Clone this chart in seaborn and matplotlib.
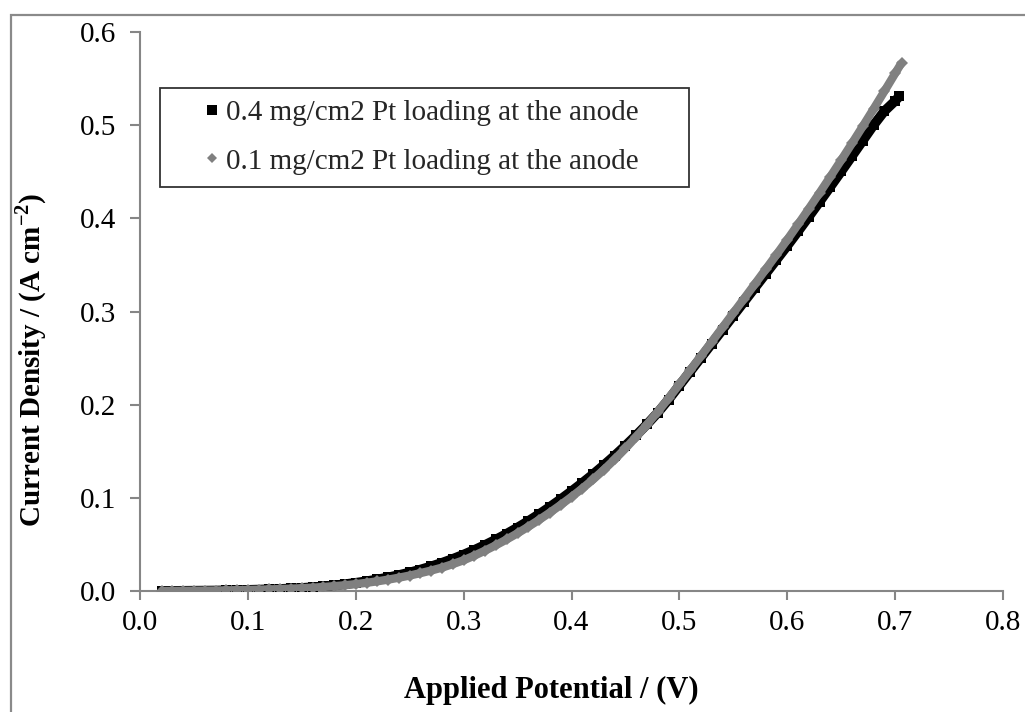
import matplotlib
matplotlib.use("Agg")
import matplotlib.pyplot as plt
import seaborn as sns
import pandas as pd
from matplotlib.lines import Line2D
from matplotlib.patches import Rectangle
from matplotlib.ticker import FormatStrFormatter

# ---------------- data ----------------
V_04 = [0.02, 0.03, 0.04, 0.05, 0.06, 0.07, 0.08, 0.09, 0.10, 0.11,
        0.12, 0.13, 0.14, 0.15, 0.16, 0.17, 0.18, 0.19, 0.20, 0.21,
        0.22, 0.23, 0.24, 0.25, 0.26, 0.27, 0.28, 0.29, 0.30, 0.31,
        0.32, 0.33, 0.34, 0.35, 0.36, 0.37, 0.38, 0.39, 0.40, 0.41,
        0.42, 0.43, 0.44, 0.45, 0.46, 0.47, 0.48, 0.49, 0.50, 0.51,
        0.52, 0.53, 0.54, 0.55, 0.56, 0.57, 0.58, 0.59, 0.60, 0.61,
        0.62, 0.63, 0.64, 0.65, 0.66, 0.67, 0.68, 0.69, 0.70, 0.704]
J_04 = [0.0000, 0.0001, 0.0002, 0.0003, 0.0004, 0.0005, 0.0007, 0.0009, 0.0012, 0.0015,
        0.0018, 0.0022, 0.0027, 0.0033, 0.0040, 0.0049, 0.0060, 0.0073, 0.0088, 0.0105,
        0.0124, 0.0146, 0.0171, 0.0199, 0.0230, 0.0265, 0.0303, 0.0345, 0.0391, 0.0441,
        0.0495, 0.0553, 0.0615, 0.0681, 0.0751, 0.0825, 0.0903, 0.0985, 0.1071, 0.1160,
        0.1253, 0.1351, 0.1453, 0.1560, 0.1672, 0.1789, 0.1915, 0.2055, 0.2205, 0.2355,
        0.2505, 0.2655, 0.2805, 0.2955, 0.3105, 0.3255, 0.3405, 0.3555, 0.3705, 0.3860,
        0.4018, 0.4178, 0.4340, 0.4503, 0.4668, 0.4834, 0.5000, 0.5150, 0.5260, 0.5310]

V_01 = [0.02, 0.03, 0.04, 0.05, 0.06, 0.07, 0.08, 0.09, 0.10, 0.11,
        0.12, 0.13, 0.14, 0.15, 0.16, 0.17, 0.18, 0.19, 0.20, 0.21,
        0.22, 0.23, 0.24, 0.25, 0.26, 0.27, 0.28, 0.29, 0.30, 0.31,
        0.32, 0.33, 0.34, 0.35, 0.36, 0.37, 0.38, 0.39, 0.40, 0.41,
        0.42, 0.43, 0.44, 0.45, 0.46, 0.47, 0.48, 0.49, 0.50, 0.51,
        0.52, 0.53, 0.54, 0.55, 0.56, 0.57, 0.58, 0.59, 0.60, 0.61,
        0.62, 0.63, 0.64, 0.65, 0.66, 0.67, 0.68, 0.69, 0.70, 0.706]
J_01 = [0.0000, 0.0001, 0.0002, 0.0003, 0.0004, 0.0005, 0.0007, 0.0009, 0.0011, 0.0014,
        0.0017, 0.0021, 0.0025, 0.0030, 0.0036, 0.0043, 0.0052, 0.0062, 0.0074, 0.0088,
        0.0104, 0.0122, 0.0143, 0.0166, 0.0192, 0.0220, 0.0251, 0.0289, 0.0330, 0.0380,
        0.0434, 0.0492, 0.0554, 0.0620, 0.0690, 0.0764, 0.0842, 0.0924, 0.1010, 0.1100,
        0.1197, 0.1301, 0.1412, 0.1530, 0.1655, 0.1787, 0.1925, 0.2069, 0.2219, 0.2370,
        0.2522, 0.2675, 0.2829, 0.2984, 0.3139, 0.3295, 0.3452, 0.3610, 0.3770, 0.3935,
        0.4103, 0.4274, 0.4448, 0.4625, 0.4805, 0.4988, 0.5174, 0.5363, 0.5555, 0.5670]

LABEL_04 = "0.4 mg/cm2 Pt loading at the anode"
LABEL_01 = "0.1 mg/cm2 Pt loading at the anode"
X_TICKS = [0.0, 0.1, 0.2, 0.3, 0.4, 0.5, 0.6, 0.7, 0.8]
Y_TICKS = [0.0, 0.1, 0.2, 0.3, 0.4, 0.5, 0.6]

# ---------------- styling ----------------
sns.set_theme(style="white")
plt.rcParams["font.family"] = ["Liberation Serif", "DejaVu Serif"]
plt.rcParams["mathtext.fontset"] = "custom"
plt.rcParams["mathtext.rm"] = "Liberation Serif"
plt.rcParams["mathtext.bf"] = "Liberation Serif:bold"

W, H = 1025, 712
fig = plt.figure(figsize=(W / 100, H / 100), dpi=100)
fig.patch.set_facecolor("white")
ax = fig.add_axes([140 / W, (H - 591) / H, 863 / W, 559 / H])

BLACK = "#000000"
GRAY = "#808080"
SPINE = "#868686"

df04 = pd.DataFrame({"V": V_04, "J": J_04})
df01 = pd.DataFrame({"V": V_01, "J": J_01})

sns.lineplot(data=df04, x="V", y="J", ax=ax, color=BLACK, lw=7,
             marker="s", markersize=7.5, markeredgewidth=0, legend=False,
             zorder=3, sort=False, solid_capstyle="butt")
sns.lineplot(data=df01, x="V", y="J", ax=ax, color=GRAY, lw=6,
             marker="D", markersize=6.5, markeredgewidth=0, legend=False,
             zorder=4, sort=False, solid_capstyle="butt")

ax.set_xlim(0.0, 0.8)
ax.set_ylim(0.0, 0.6)
ax.set_xticks(X_TICKS)
ax.set_yticks(Y_TICKS)
ax.xaxis.set_major_formatter(FormatStrFormatter("%.1f"))
ax.yaxis.set_major_formatter(FormatStrFormatter("%.1f"))
ax.set_xlabel("")
ax.set_ylabel("")

for s in ["top", "right"]:
    ax.spines[s].set_visible(False)
for s in ["left", "bottom"]:
    ax.spines[s].set_color(SPINE)
    ax.spines[s].set_linewidth(1.5)
    ax.spines[s].set_zorder(2)

ax.tick_params(axis="x", which="major", direction="out", length=6.5, width=1.5,
               color=SPINE, labelsize=21, pad=7, labelcolor="black", bottom=True)
ax.tick_params(axis="y", which="major", direction="out", length=7, width=1.5,
               color=SPINE, labelsize=21, pad=10, labelcolor="black", left=True)
ax.grid(False)

# axis titles
fig.text(551 / W, 1 - 690 / H, "Applied Potential / (V)", ha="center", va="center",
         fontsize=22, fontweight="bold", color="black")
fig.text(31 / W, 1 - 360 / H, r"Current Density / (A cm$^{\mathbf{-2}}$)",
         ha="center", va="center", rotation=90, fontsize=21,
         fontweight="bold", color="black")

# legend
handles = [
    Line2D([], [], ls="none", marker="s", markersize=6.5, color=BLACK, markeredgewidth=0),
    Line2D([], [], ls="none", marker="D", markersize=5, color=GRAY, markeredgewidth=0),
]
ax_w, ax_h = 863, 559
leg = ax.legend(handles, [LABEL_04, LABEL_01], loc="upper left",
                bbox_to_anchor=((160 - 140) / ax_w, (591 - 194) / ax_h,
                                (689 - 160) / ax_w, (194 - 88) / ax_h),
                mode="expand", borderaxespad=0, fontsize=21, frameon=True,
                fancybox=False, edgecolor="black", handlelength=2.74,
                handletextpad=-0.89, labelspacing=0.75, borderpad=0.41)
leg.get_frame().set_linewidth(1.3)
leg.set_zorder(5)

# outer chart border
fig.add_artist(Rectangle((10.5 / W, -0.05), 1.1, (H - 15) / H + 0.05,
                         transform=fig.transFigure, fill=False,
                         edgecolor="#8a8a8a", lw=1.6, zorder=0))

fig.savefig("out.png", dpi=100, facecolor="white")
